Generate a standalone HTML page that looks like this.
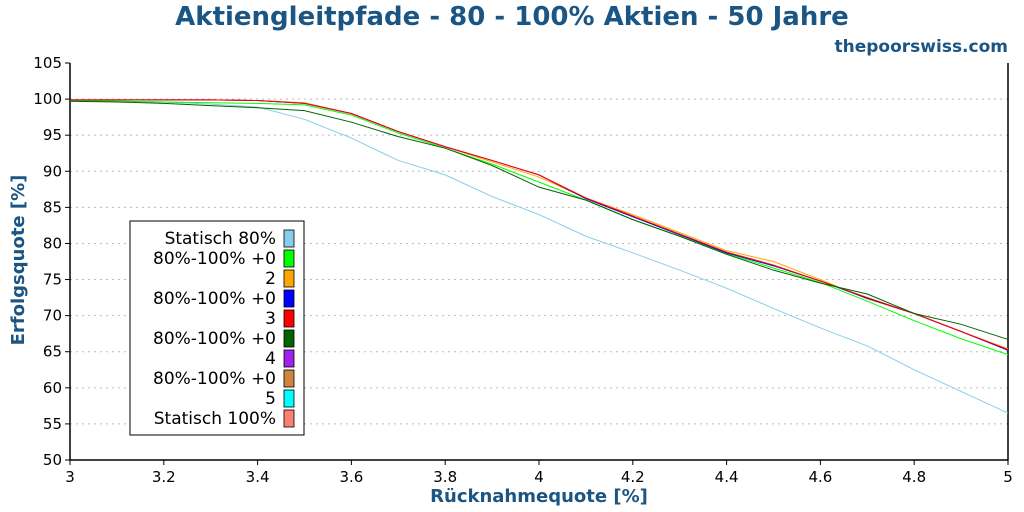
<!DOCTYPE html>
<html><head><meta charset="utf-8"><style>
body{margin:0;background:#fff;font-family:"Liberation Sans","DejaVu Sans",sans-serif}
svg{display:block}
</style></head><body>
<svg id="c" width="1024" height="512" xmlns="http://www.w3.org/2000/svg">
<text x="512" y="25" text-anchor="middle" font-size="26" font-weight="bold" fill="#1b5583" font-family="DejaVu Sans,sans-serif">Aktiengleitpfade - 80 - 100% Aktien - 50 Jahre</text>
<text x="1008" y="52" text-anchor="end" font-size="17" font-weight="bold" fill="#1b5583" font-family="DejaVu Sans,sans-serif">thepoorswiss.com</text>
<g id="grid"></g><g id="axes"></g><g id="lines"></g><g id="legend"></g>
<text x="539" y="502" text-anchor="middle" font-size="18" font-weight="bold" fill="#1b5583" font-family="DejaVu Sans,sans-serif">Rücknahmequote [%]</text>
<text transform="translate(24,260) rotate(-90)" text-anchor="middle" font-size="18" font-weight="bold" fill="#1b5583" font-family="DejaVu Sans,sans-serif">Erfolgsquote [%]</text>
</svg>
<script>
const xValues=[3.0,3.1,3.2,3.3,3.4,3.5,3.6,3.7,3.8,3.9,4.0,4.1,4.2,4.3,4.4,4.5,4.6,4.7,4.8,4.9,5.0];
const xTicks=[3,3.2,3.4,3.6,3.8,4,4.2,4.4,4.6,4.8,5];
const yTicks=[50,55,60,65,70,75,80,85,90,95,100,105];
const seriesNames=["Statisch 80%","80%-100% +02","80%-100% +03","80%-100% +04","80%-100% +05","Statisch 100%"];
const legendLabels=["Statisch 80%","80%-100% +0","2","80%-100% +0","3","80%-100% +0","4","80%-100% +0","5","Statisch 100%"];
const legendColors=["#87ceeb","#00ff00","#ffa500","#0000ff","#ff0000","#006400","#a020f0","#cd853f","#00ffff","#fa8072"];
const sLightBlue=[99.7,99.7,99.6,99.3,98.9,97.2,94.6,91.5,89.5,86.5,84.0,81.0,78.7,76.3,73.8,71.0,68.3,65.8,62.5,59.5,56.5];
const sGreen=[99.8,99.7,99.6,99.5,99.4,99.2,97.8,95.3,93.2,91.0,88.5,86.0,83.3,81.0,78.6,76.6,74.6,72.0,69.3,66.8,64.6];
const sOrange=[99.9,99.9,99.9,99.9,99.8,99.5,98.0,95.5,93.4,91.3,89.2,86.3,84.0,81.5,79.0,77.5,75.0,72.3,70.3,67.8,65.4];
const sBlue=[99.9,99.9,99.9,99.9,99.8,99.4,98.0,95.5,93.4,91.5,89.5,86.2,83.7,81.2,78.7,76.9,74.8,72.4,70.3,67.8,65.2];
const sDarkGreen=[99.7,99.6,99.4,99.1,98.8,98.4,96.8,94.8,93.2,90.8,87.8,86.0,83.3,81.0,78.5,76.3,74.5,73.0,70.3,68.8,66.7];
const sRed=[99.9,99.9,99.9,99.9,99.8,99.4,98.0,95.5,93.4,91.5,89.5,86.3,83.8,81.3,78.8,77.0,74.8,72.5,70.3,67.8,65.3];
const NS="http://www.w3.org/2000/svg";
const X0=70,X1=1008,Y0=460,Y1=63;
const sx=v=>X0+(v-3)/(5-3)*(X1-X0);
const sy=v=>Y0-(v-50)/(105-50)*(Y0-Y1);
function mk(t,a,p){const e=document.createElementNS(NS,t);for(const k in a)e.setAttribute(k,a[k]);p.appendChild(e);return e;}
const grid=document.getElementById('grid'),axes=document.getElementById('axes'),lines=document.getElementById('lines'),leg=document.getElementById('legend');
yTicks.forEach(t=>{
 if(t>50&&t<105){const g=mk('line',{x1:X0,x2:X1,y1:sy(t),y2:sy(t),stroke:'#bbb','stroke-dasharray':'2,4'},grid);
 
 }
 const tk=mk('line',{x1:X0-5,x2:X0,y1:sy(t),y2:sy(t),stroke:'#000'},axes);
 
 
 const tx=mk('text',{x:X0-8,y:sy(t)+5,'text-anchor':'end','font-size':15,'font-family':'DejaVu Sans,sans-serif'},axes);tx.textContent=t;
 
 
});
xTicks.forEach(t=>{
 const tk=mk('line',{x1:sx(t),x2:sx(t),y1:Y0,y2:Y0+5,stroke:'#000'},axes);
 
 
 const tx=mk('text',{x:sx(t),y:Y0+22,'text-anchor':'middle','font-size':15,'font-family':'DejaVu Sans,sans-serif'},axes);tx.textContent=t;
 
 
});
const fr=mk('path',{d:`M${X0},${Y1}V${Y0}H${X1}V${Y1}`,fill:'none',stroke:'#000','stroke-width':1.5},axes);


const drawList=[[sLightBlue,"#87ceeb","series-statisch-80"],[sGreen,"#00ff00","series-80-100-02"],[sOrange,"#ffa500","series-80-100-03"],[sBlue,"#0000ff","series-80-100-04"],[sRed,"#ff0000","series-80-100-05"],[sDarkGreen,"#006400","series-statisch-100"]];
drawList.forEach(([d,c,n])=>{
 const p=mk('polyline',{points:d.map((v,i)=>sx(xValues[i])+','+sy(v)).join(' '),fill:'none',stroke:c,'stroke-width':1},lines);
 
 
});
const bx=mk('rect',{x:130,y:221,width:174,height:214,fill:'#fff',stroke:'#000'},leg);


legendLabels.forEach((l,i)=>{
 const cy=238+i*20;
 const t=mk('text',{x:276,y:cy+6,'text-anchor':'end','font-size':17,'font-family':'DejaVu Sans,sans-serif'},leg);t.textContent=l;
 
 
 const r=mk('rect',{x:284,y:cy-8,width:10,height:17,fill:legendColors[i],stroke:'#000','stroke-width':0.8},leg);
 
 
});
</script>
</body></html>
